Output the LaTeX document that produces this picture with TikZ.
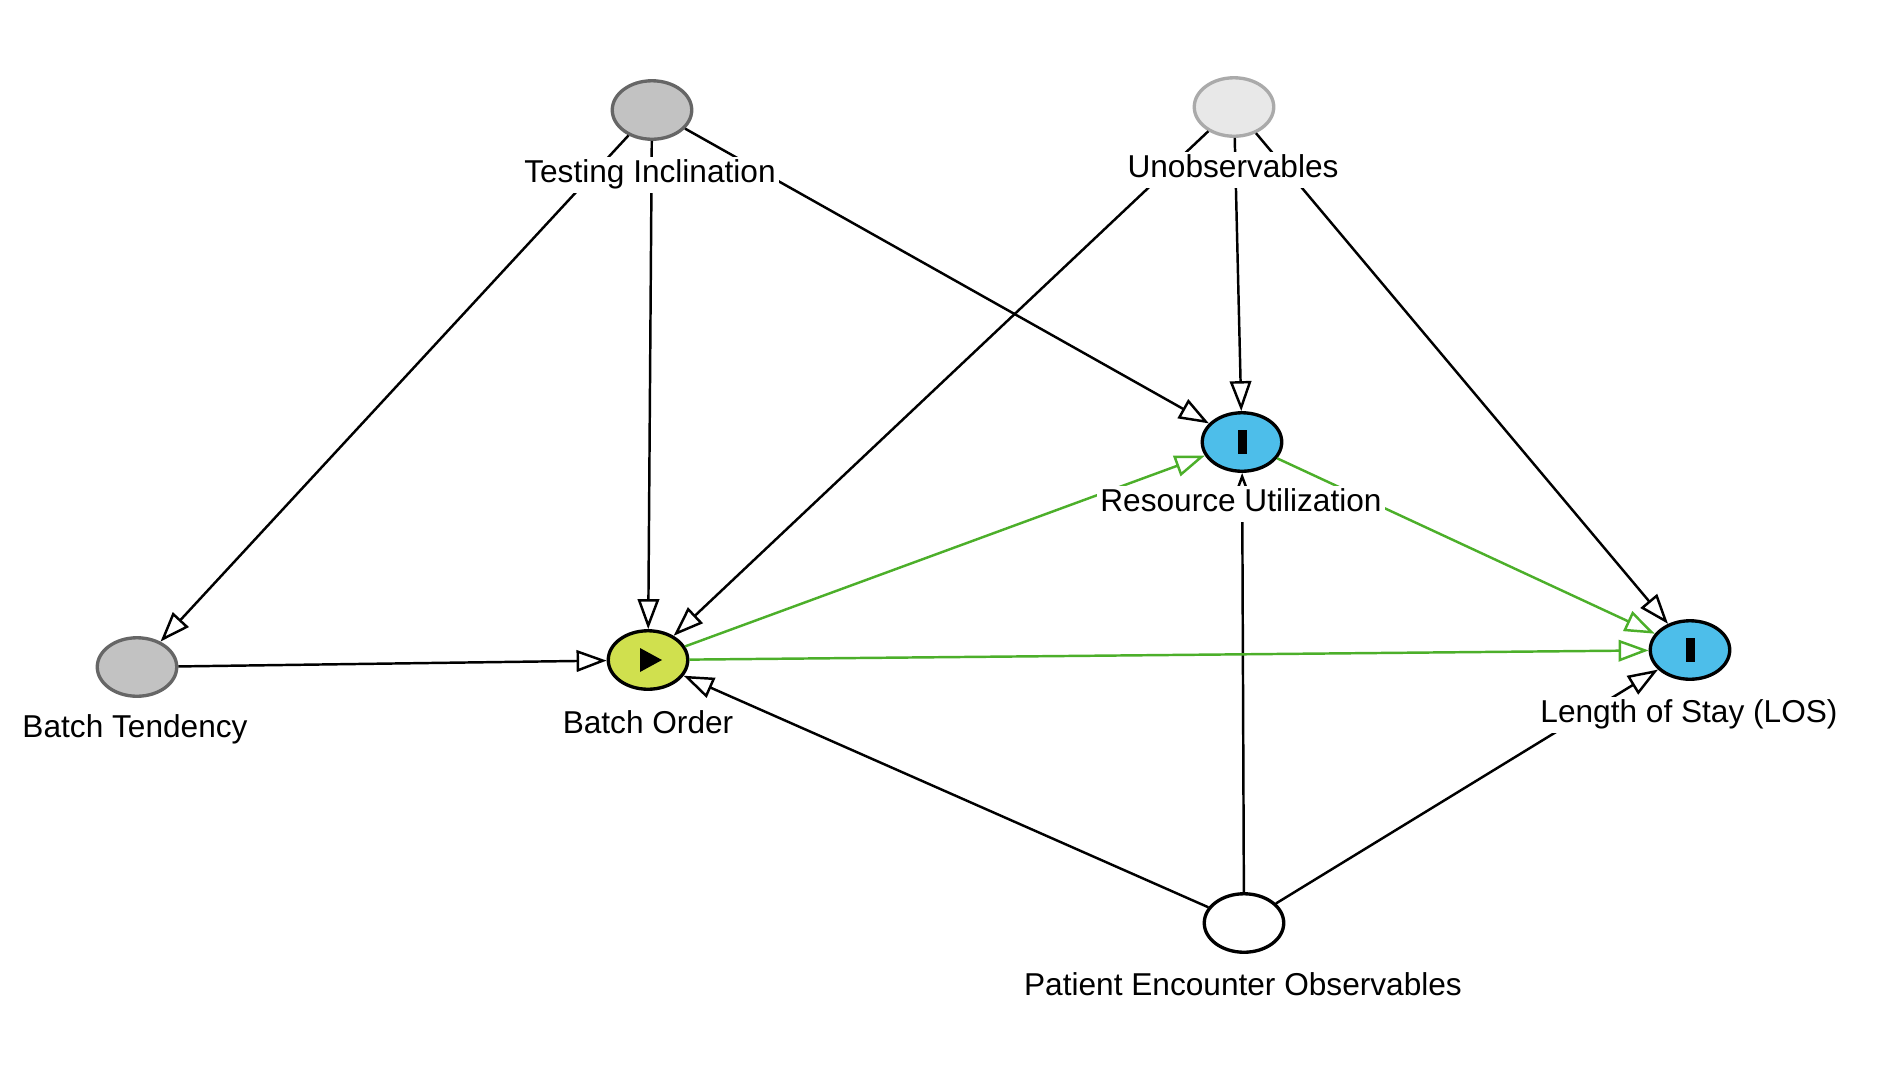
\documentclass[tikz,border=0pt]{standalone}
\usepackage{fontspec}
\setmainfont{Liberation Sans}
\usetikzlibrary{shapes.geometric, arrows.meta}

\definecolor{expfill}{HTML}{D0E04E}
\definecolor{outfill}{HTML}{4DBEEA}
\definecolor{latfill}{HTML}{C2C2C2}
\definecolor{latline}{HTML}{666666}
\definecolor{unfill}{HTML}{E8E8E8}
\definecolor{unline}{HTML}{AAAAAA}
\definecolor{pathgreen}{HTML}{4CAF2A}

\begin{document}
\begin{tikzpicture}[x=0.02cm, y=-0.02cm,
  var/.style={ellipse, draw, line width=1.9pt, minimum width=1.59cm,
    minimum height=1.17cm, inner sep=0pt},
  lbl/.style={fill=white, inner sep=2pt, text height=13pt, text depth=4pt,
    font=\fontsize{18}{21}\selectfont},
  edge/.style={line width=1.4pt,
    -{Triangle[length=0.6cm, width=0.43cm, fill=white]}},
  causal/.style={edge, draw=pathgreen}]
  \useasboundingbox (0,0) rectangle (1877,1090);
  % variables
  \node[var, fill=latfill, draw=latline] (ti) at (652,110) {};
  \node[var, fill=unfill, draw=unline] (un) at (1234,107) {};
  \node[var, fill=outfill] (ru) at (1242,442) {};
  \node[var, fill=expfill] (bo) at (648,660) {};
  \node[var, fill=outfill] (los) at (1690,650) {};
  \node[var, fill=white] (peo) at (1244,923) {};
  \node[var, fill=latfill, draw=latline] (bt) at (137,667) {};
  % markers inside exposure / outcomes
  \fill[shift={(bo)}] (-8,-12) -- (14,0) -- (-8,12) -- cycle;
  \fill[shift={(ru)}] (-4.5,-12) rectangle (4.5,12);
  \fill[shift={(los)}] (-4.5,-12) rectangle (4.5,12);
  % edges
  \draw[edge] (ti) -- (bt);
  \draw[edge] (ti) -- (bo);
  \draw[edge] (ti) -- (ru);
  \draw[edge] (un) -- (bo);
  \draw[edge] (un) -- (ru);
  \draw[edge] (un) -- (los);
  \draw[edge] (bt) -- (bo);
  \draw[edge] (peo) -- (bo);
  \draw[edge] (peo) -- (ru);
  \draw[edge] (peo) -- (los);
  % causal paths
  \draw[causal] (bo) -- (ru);
  \draw[causal] (bo) -- (los);
  \draw[causal] (ru) -- (los);
  % labels
  \node[lbl] (tilab) at (650,175) {Testing Inclination};
  \node[lbl] (unlab) at (1233,170) {Unobservables};
  \node[lbl] (rulab) at (1241,504) {Resource Utilization};
  \node[lbl] (bolab) at (648,726) {Batch Order};
  \node[lbl] (loslab) at (1689,715) {Length of Stay (LOS)};
  \node[lbl] (peolab) at (1243,988) {Patient Encounter Observables};
  \node[lbl] (btlab) at (135,730) {Batch Tendency};
\end{tikzpicture}
\end{document}
